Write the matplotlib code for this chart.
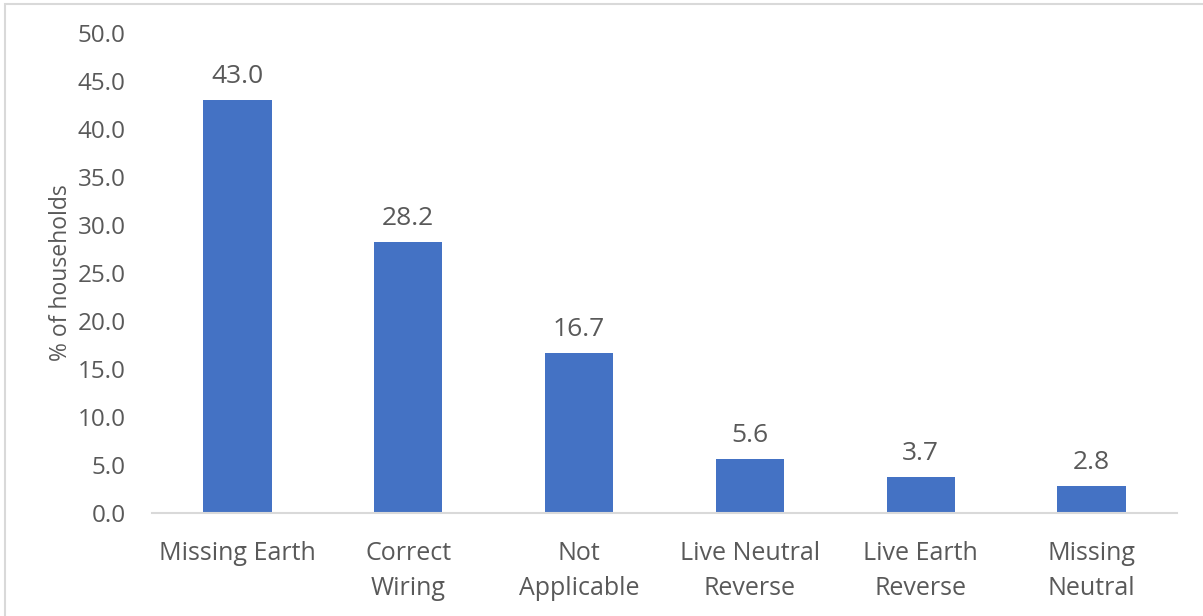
import numpy as np
import matplotlib.pyplot as plt
from matplotlib.patches import Rectangle

categories = ["Missing Earth", "Correct\nWiring", "Not\nApplicable",
              "Live Neutral\nReverse", "Live Earth\nReverse", "Missing\nNeutral"]
values = [43.0, 28.2, 16.7, 5.6, 3.7, 2.8]
yticks = np.arange(0, 50.1, 5)

text_color = "#595959"
bar_color = "#4472C4"
line_color = "#D9D9D9"

plt.rcParams['font.family'] = ['Open Sans', 'DejaVu Sans']

fig = plt.figure(figsize=(12.03, 6.16), dpi=100)
ax = fig.add_axes([0.1264, 0.1672, 0.8520, 0.7792])

x = np.arange(len(categories))
bars = ax.bar(x, values, width=0.4, color=bar_color)

for xi, v in zip(x, values):
    ax.annotate(f"{v:.1f}", (xi, v), xytext=(0, 8), textcoords="offset points",
                ha="center", va="bottom", fontsize=19, color=text_color)

ax.set_xlim(-0.5, len(categories) - 0.5)
ax.set_ylim(0, 50)
ax.set_yticks(yticks)
ax.set_yticklabels([f"{t:.1f}" for t in yticks], fontsize=17.5)
ax.set_xticks(x)
ax.set_xticklabels(categories, linespacing=1.55, fontsize=18)
ax.tick_params(axis="both", length=0, labelcolor=text_color)
ax.tick_params(axis="y", pad=19)
ax.tick_params(axis="x", pad=20)

for side in ["top", "right", "left"]:
    ax.spines[side].set_visible(False)
ax.spines["bottom"].set_color(line_color)
ax.spines["bottom"].set_linewidth(1.5)

ax.set_ylabel("% of households", fontsize=16.5, color=text_color, labelpad=3)

# chart area border
fig.patches.append(Rectangle((5 / 1203, -0.1), 1.2, 1.1 - 4 / 616,
                             transform=fig.transFigure, fill=False,
                             edgecolor=line_color, linewidth=1.5))

fig.savefig("out.png", dpi=100)
